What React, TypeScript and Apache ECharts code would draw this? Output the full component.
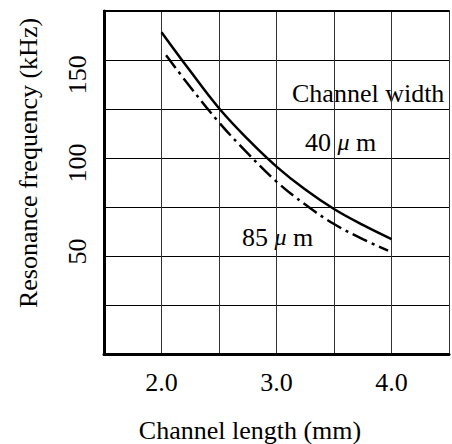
import React, { useEffect, useRef } from "react";
import * as echarts from "echarts";

// Channel length (mm) and resonance frequency (kHz)
const lengths40 = [2.0, 2.25, 2.5, 2.75, 3.0, 3.25, 3.5, 3.75, 4.0];
const freq40 = [174, 152, 131, 113.5, 98, 85, 74, 65, 57];
const lengths85 = [2.04, 2.25, 2.5, 2.75, 3.0, 3.25, 3.5, 3.75, 3.97];
const freq85 = [161, 143, 123, 105.5, 89.5, 76.5, 65.5, 57, 50.5];

const xTickLabels = [2.0, 3.0, 4.0];
const yTickLabels = [50, 100, 150];

const FONT = "Liberation Serif";

export default function App() {
  const ref = useRef<HTMLDivElement>(null);

  useEffect(() => {
    if (!ref.current) return;
    const chart = echarts.init(ref.current, undefined, { renderer: "svg" });
    const data40 = lengths40.map((x, i) => [x, freq40[i]]);
    const data85 = lengths85.map((x, i) => [x, freq85[i]]);

    chart.setOption({
      animation: false,
      backgroundColor: "#fff",
      textStyle: { fontFamily: FONT },
      grid: { left: 104, top: 11, right: -3, bottom: 90, containLabel: false },
      xAxis: [
        {
          type: "value",
          min: 1.5,
          max: 4.5,
          interval: 0.5,
          axisLine: { show: true, onZero: false, lineStyle: { color: "#000", width: 3 } },
          axisTick: { show: false },
          splitLine: { show: true, lineStyle: { color: "#333", width: 1 } },
          axisLabel: {
            margin: 15,
            fontFamily: FONT,
            fontSize: 26,
            color: "#000",
            formatter: (v: number) =>
              xTickLabels.some((t) => Math.abs(t - v) < 1e-6) ? v.toFixed(1) : "",
          },
        },
        {
          type: "value",
          position: "top",
          min: 1.5,
          max: 4.5,
          axisLine: { show: true, onZero: false, lineStyle: { color: "#000", width: 2 } },
          axisTick: { show: false },
          axisLabel: { show: false },
          splitLine: { show: false },
        },
      ],
      yAxis: [
        {
          type: "value",
          position: "left",
          min: -8,
          max: 186,
          axisLine: { show: false },
          axisTick: { show: false },
          splitLine: { show: false },
          axisLabel: {
            customValues: yTickLabels,
            rotate: 90,
            margin: 14,
            fontFamily: FONT,
            fontSize: 26,
            color: "#000",
          },
        },
        {
          type: "value",
          position: "left",
          min: 0,
          max: 7,
          interval: 1,
          axisLine: { show: true, onZero: false, lineStyle: { color: "#000", width: 3 } },
          axisTick: { show: false },
          axisLabel: { show: false },
          splitLine: { show: true, lineStyle: { color: "#000", width: 1 } },
        },
      ],
      series: [
        {
          name: "40 μm",
          type: "line",
          xAxisIndex: 0,
          yAxisIndex: 0,
          data: data40,
          smooth: 0.4,
          showSymbol: false,
          symbol: "none",
          lineStyle: { color: "#000", width: 2.5, type: "solid" },
        },
        {
          name: "85 μm",
          type: "line",
          xAxisIndex: 0,
          yAxisIndex: 0,
          data: data85,
          smooth: 0.4,
          showSymbol: false,
          symbol: "none",
          lineStyle: { color: "#000", width: 2.5, type: [16, 5, 3, 5] },
        },
      ],
      graphic: [
        {
          type: "text",
          x: 28,
          y: 163,
          rotation: Math.PI / 2,
          style: {
            text: "Resonance frequency (kHz)",
            fontFamily: FONT,
            fontSize: 26,
            fill: "#000",
            align: "center",
            verticalAlign: "middle",
          },
        },
        {
          type: "text",
          x: 250,
          y: 430,
          style: {
            text: "Channel length (mm)",
            fontFamily: FONT,
            fontSize: 26,
            fill: "#000",
            align: "center",
            verticalAlign: "middle",
          },
        },
        {
          type: "text",
          x: 292,
          y: 93,
          style: {
            text: "Channel width",
            fontFamily: FONT,
            fontSize: 26,
            fill: "#000",
            align: "left",
            verticalAlign: "middle",
          },
        },
        {
          type: "text",
          x: 305,
          y: 142,
          style: {
            text: "40 {mu|μ} m",
            fontFamily: FONT,
            fontSize: 26,
            fill: "#000",
            align: "left",
            verticalAlign: "middle",
            rich: {
              mu: { fontFamily: FONT, fontSize: 24, fontStyle: "italic", fill: "#000" },
            },
          },
        },
        {
          type: "text",
          x: 242,
          y: 237,
          style: {
            text: "85 {mu|μ} m",
            fontFamily: FONT,
            fontSize: 26,
            fill: "#000",
            align: "left",
            verticalAlign: "middle",
            rich: {
              mu: { fontFamily: FONT, fontSize: 24, fontStyle: "italic", fill: "#000" },
            },
          },
        },
      ],
    });

    return () => chart.dispose();
  }, []);

  return (
    <div
      ref={ref}
      style={{ position: "fixed", left: 0, top: 0, width: 452, height: 444, background: "#fff" }}
    />
  );
}
